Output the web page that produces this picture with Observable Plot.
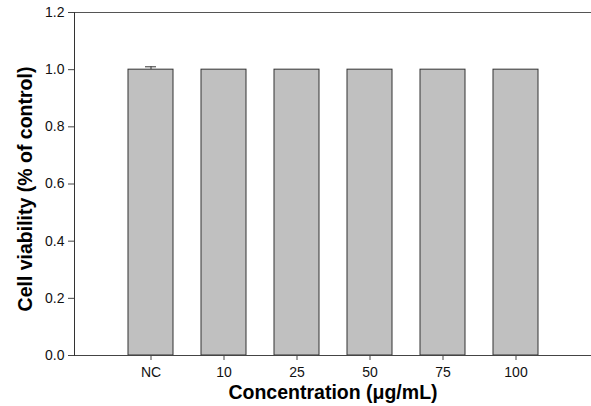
<!DOCTYPE html>
<html>
<head>
<meta charset="utf-8">
<script src="https://cdn.jsdelivr.net/npm/d3@7"></script>
<script src="https://cdn.jsdelivr.net/npm/@observablehq/plot@0.6"></script>
<style>
  html, body { margin: 0; padding: 0; background: #fff; }
  #chart svg { display: block; }
</style>
</head>
<body>
<div id="chart"></div>
<script>
const categories = ["NC", "10", "25", "50", "75", "100"];
const values = [1.0, 1.0, 1.0, 1.0, 1.0, 1.0];
const errors = [0.01, 0, 0, 0, 0, 0];
const yTicks = [0, 0.2, 0.4, 0.6, 0.8, 1.0, 1.2];

const data = categories.map((c, i) => ({cat: c, value: values[i], err: errors[i]}));
const errData = data.filter(d => d.err > 0);

const chart = Plot.plot({
  width: 591,
  height: 406,
  marginLeft: 74,
  marginRight: 0,
  marginTop: 12,
  marginBottom: 51,
  style: {fontFamily: "Arial, 'Liberation Sans', sans-serif", color: "#111", background: "#fff"},
  x: {
    domain: categories,
    paddingInner: 0.39,
    paddingOuter: 0.7,
    label: null
  },
  y: {
    domain: [0, 1.2],
    label: null
  },
  marks: [
    Plot.barY(data, {x: "cat", y: "value", fill: "#c0c0c0", stroke: "#333", strokeWidth: 1}),
    Plot.ruleX(errData, {x: "cat", y1: "value", y2: d => d.value + d.err, stroke: "#333"}),
    Plot.tickY(errData, {x: "cat", y: d => d.value + d.err, stroke: "#333", insetLeft: 17, insetRight: 17}),
    Plot.axisX({tickSize: 5, tickPadding: 7, fontSize: 14, label: null, stroke: "#444", fill: "#111"}),
    Plot.axisY({ticks: yTicks, tickFormat: d3.format(".1f"), tickSize: 6, tickPadding: 4, fontSize: 14, label: null, stroke: "#444", fill: "#111"}),
    Plot.ruleY([0], {stroke: "#444"}),
    Plot.ruleY([1.2], {stroke: "#555"}),
    Plot.frame({anchor: "left", stroke: "#333"}),
    Plot.text(["Concentration (μg/mL)"], {frameAnchor: "bottom", dy: 43, fontSize: 19.5, fontWeight: "bold", fill: "#000"}),
    Plot.text(["Cell viability (% of control)"], {frameAnchor: "left", textAnchor: "middle", dx: -49, dy: 5, rotate: -90, fontSize: 19.5, fontWeight: "bold", fill: "#000"})
  ]
});
document.getElementById("chart").appendChild(chart);
</script>
</body>
</html>
